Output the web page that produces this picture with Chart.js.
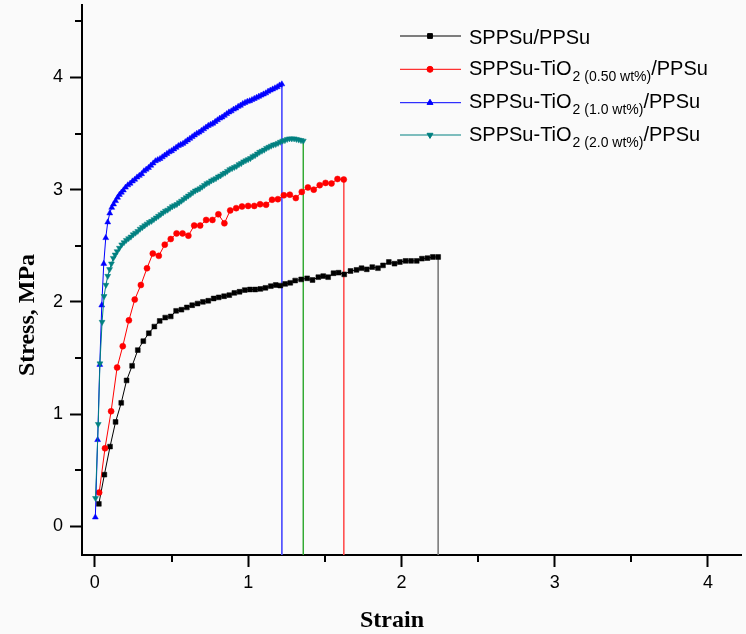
<!DOCTYPE html>
<html><head><meta charset="utf-8">
<script src="https://cdn.jsdelivr.net/npm/chart.js@4.4.1/dist/chart.umd.min.js"></script>
<style>html,body{margin:0;padding:0;background:#fafafa;overflow:hidden}canvas{display:block}</style>
</head><body><canvas id="c" width="746" height="634"></canvas>
<script>
// ---------- data ----------
const seriesNames = ['SPPSu/PPSu','SPPSu-TiO2 (0.50 wt%)/PPSu','SPPSu-TiO2 (1.0 wt%)/PPSu','SPPSu-TiO2 (2.0 wt%)/PPSu'];
const legendParts = [['SPPSu/PPSu','',''],['SPPSu-TiO','2 (0.50 wt%)','/PPSu'],['SPPSu-TiO','2 (1.0 wt%)','/PPSu'],['SPPSu-TiO','2 (2.0 wt%)','/PPSu']];
const xTicks = [0,1,2,3,4];
const xTickLabels = ['0','1','2','3','4'];
const xMinor = [0.5,1.5,2.5,3.5];
const yTicks = [0,1,2,3,4];
const yTickLabels = ['0','1','2','3','4'];
const yMinor = [0.5,1.5,2.5,3.5,4.5];
const xTitle = 'Strain';
const yTitle = 'Stress, MPa';

// SPPSu/PPSu  [strain, stress]
const neat = [[0.026,0.20],[0.062,0.46],[0.099,0.71],[0.135,0.93],[0.172,1.10],[0.207,1.30],[0.243,1.43],[0.28,1.57],[0.316,1.65],[0.352,1.72],[0.388,1.78],[0.423,1.83],[0.459,1.86],[0.495,1.87],[0.53,1.92],[0.565,1.93],[0.6,1.95],[0.635,1.97],[0.67,1.985],[0.705,2.0],[0.74,2.01],[0.775,2.03],[0.808,2.04],[0.843,2.05],[0.877,2.06],[0.91,2.08],[0.944,2.09],[0.978,2.105],[1.012,2.11],[1.046,2.11],[1.08,2.115],[1.113,2.125],[1.148,2.14],[1.18,2.15],[1.21,2.145],[1.242,2.16],[1.275,2.17],[1.307,2.19],[1.346,2.20],[1.385,2.21],[1.42,2.195],[1.458,2.22],[1.49,2.23],[1.522,2.22],[1.557,2.255],[1.59,2.26],[1.627,2.245],[1.668,2.275],[1.707,2.285],[1.74,2.30],[1.774,2.29],[1.81,2.31],[1.847,2.30],[1.88,2.325],[1.918,2.355],[1.955,2.34],[1.99,2.355],[2.027,2.365],[2.063,2.365],[2.1,2.365],[2.134,2.385],[2.17,2.39],[2.205,2.40],[2.24,2.40]];
// SPPSu-TiO2 (0.50 wt%)/PPSu
const ti050 = [[0.028,0.30],[0.066,0.695],[0.106,1.025],[0.145,1.415],[0.182,1.605],[0.222,1.835],[0.26,2.02],[0.30,2.15],[0.34,2.30],[0.378,2.43],[0.417,2.41],[0.456,2.51],[0.495,2.56],[0.533,2.61],[0.572,2.61],[0.61,2.59],[0.648,2.68],[0.687,2.68],[0.726,2.73],[0.767,2.73],[0.806,2.78],[0.845,2.70],[0.883,2.815],[0.922,2.835],[0.96,2.85],[1.0,2.855],[1.04,2.855],[1.078,2.87],[1.117,2.865],[1.156,2.91],[1.194,2.915],[1.233,2.95],[1.272,2.955],[1.311,2.925],[1.35,2.98],[1.39,3.02],[1.428,3.0],[1.467,3.04],[1.505,3.06],[1.544,3.055],[1.583,3.095],[1.624,3.09]];
// SPPSu-TiO2 (1.0 wt%)/PPSu
const ti100 = [[0.003,0.08],[0.018,0.77],[0.032,1.44],[0.045,1.97],[0.058,2.34],[0.071,2.57],[0.084,2.71],[0.097,2.79],[0.11,2.84],[0.122,2.87],[0.135,2.90],[0.148,2.93],[0.16,2.955],[0.173,2.975],[0.186,2.995],[0.2,3.02],[0.215,3.04],[0.23,3.055],[0.245,3.075],[0.26,3.09],[0.275,3.11],[0.29,3.125],[0.305,3.14],[0.32,3.165],[0.335,3.18],[0.35,3.195],[0.365,3.215],[0.38,3.235],[0.395,3.255],[0.41,3.265],[0.425,3.275],[0.44,3.29],[0.455,3.305],[0.47,3.32],[0.485,3.335],[0.5,3.345],[0.515,3.36],[0.53,3.375],[0.545,3.39],[0.56,3.40],[0.575,3.41],[0.59,3.425],[0.605,3.44],[0.62,3.455],[0.635,3.47],[0.65,3.485],[0.665,3.50],[0.68,3.51],[0.695,3.525],[0.71,3.54],[0.725,3.555],[0.74,3.57],[0.755,3.58],[0.77,3.59],[0.785,3.605],[0.8,3.62],[0.815,3.635],[0.83,3.645],[0.845,3.66],[0.86,3.675],[0.875,3.69],[0.89,3.70],[0.905,3.715],[0.92,3.725],[0.935,3.74],[0.95,3.75],[0.965,3.765],[0.98,3.775],[0.995,3.785],[1.01,3.79],[1.025,3.80],[1.04,3.81],[1.055,3.82],[1.07,3.83],[1.085,3.84],[1.1,3.85],[1.115,3.86],[1.13,3.875],[1.145,3.885],[1.16,3.895],[1.175,3.905],[1.19,3.915],[1.205,3.93],[1.22,3.94]];
// SPPSu-TiO2 (2.0 wt%)/PPSu
const ti200 = [[0.004,0.25],[0.022,0.91],[0.033,1.45],[0.047,1.82],[0.06,2.05],[0.072,2.15],[0.084,2.23],[0.096,2.29],[0.108,2.34],[0.12,2.39],[0.132,2.42],[0.145,2.45],[0.16,2.48],[0.175,2.51],[0.19,2.53],[0.205,2.55],[0.22,2.565],[0.235,2.58],[0.25,2.60],[0.265,2.615],[0.28,2.63],[0.295,2.65],[0.31,2.665],[0.325,2.68],[0.34,2.695],[0.355,2.71],[0.37,2.72],[0.385,2.735],[0.4,2.75],[0.415,2.765],[0.43,2.78],[0.445,2.795],[0.46,2.81],[0.475,2.82],[0.49,2.835],[0.505,2.85],[0.52,2.86],[0.535,2.87],[0.55,2.885],[0.565,2.90],[0.58,2.915],[0.595,2.93],[0.61,2.945],[0.625,2.96],[0.64,2.975],[0.655,2.99],[0.67,3.0],[0.685,3.01],[0.7,3.025],[0.715,3.04],[0.73,3.055],[0.745,3.065],[0.76,3.08],[0.775,3.09],[0.79,3.10],[0.805,3.115],[0.82,3.125],[0.835,3.14],[0.85,3.15],[0.865,3.165],[0.88,3.18],[0.895,3.19],[0.91,3.20],[0.925,3.21],[0.94,3.225],[0.955,3.235],[0.97,3.25],[0.985,3.26],[1.0,3.27],[1.015,3.28],[1.03,3.295],[1.045,3.305],[1.06,3.32],[1.075,3.335],[1.09,3.345],[1.105,3.355],[1.12,3.37],[1.135,3.38],[1.15,3.39],[1.165,3.40],[1.18,3.405],[1.195,3.415],[1.21,3.425],[1.225,3.435],[1.24,3.44],[1.255,3.45],[1.27,3.455],[1.285,3.455],[1.3,3.455],[1.315,3.45],[1.33,3.445],[1.345,3.44],[1.36,3.435]];

const allSeries = [neat, ti050, ti100, ti200];
const seriesColors = ['#000000','#ff0000','#0000ff','#008080'];
const dropColors = ['#7f7f7f','#ff5050','#5050ff','#33aa33'];
const pointStyles = ['rect','circle','triangle','triangle'];
const pointRadii = [3.4,3,3.4,3.4];
const pointRots = [0,0,0,180];

const X_MIN = -0.084, X_MAX = 4.219, Y_MIN = -0.256, Y_MAX = 4.65;

// ---------- chart ----------
const FONT_SANS = '"Liberation Sans", Arial, sans-serif';
const FONT_SERIF = '"Liberation Serif", "Times New Roman", serif';

const datasets = [];
allSeries.forEach((s, i) => {
  datasets.push({
    label: seriesNames[i],
    data: s.map(p => ({x: p[0], y: p[1]})),
    borderColor: seriesColors[i], backgroundColor: seriesColors[i],
    pointBackgroundColor: seriesColors[i], pointBorderColor: seriesColors[i],
    borderWidth: 1, pointRadius: pointRadii[i], pointStyle: pointStyles[i],
    pointRotation: pointRots[i], pointBorderWidth: 0.5, tension: 0, order: 4 - i
  });
});
allSeries.forEach((s, i) => {
  const last = s[s.length - 1];
  datasets.push({
    label: seriesNames[i] + ' break',
    data: [{x: last[0], y: last[1]}, {x: last[0], y: Y_MIN}],
    borderColor: dropColors[i], borderWidth: 1, pointRadius: 0, tension: 0, order: 10
  });
});

const bgPlugin = {
  id: 'bg',
  beforeDraw(chart) {
    const c = chart.ctx; c.save(); c.fillStyle = '#fafafa';
    c.fillRect(0, 0, chart.width, chart.height); c.restore();
  }
};

const extrasPlugin = {
  id: 'extras',
  afterDraw(chart) {
    const c = chart.ctx, ca = chart.chartArea;
    const xs = chart.scales.x, ys = chart.scales.y;
    c.save();
    // minor ticks
    c.strokeStyle = '#000'; c.lineWidth = 2; c.beginPath();
    xMinor.forEach(v => { const p = Math.round(xs.getPixelForValue(v)); c.moveTo(p, ca.bottom); c.lineTo(p, ca.bottom + 7); });
    yMinor.forEach(v => { const p = Math.round(ys.getPixelForValue(v)); c.moveTo(ca.left, p); c.lineTo(ca.left - 7, p); });
    c.stroke();
    // axis titles
    c.fillStyle = '#000'; c.font = 'bold 24px ' + FONT_SERIF;
    c.textAlign = 'center'; c.textBaseline = 'middle';
    c.fillText(xTitle, 392, 621);
    c.save(); c.translate(28, 315); c.rotate(-Math.PI / 2); c.fillText(yTitle, 0, 0); c.restore();
    // legend
    const rows = [36, 69.3, 102.7, 135];
    const bases = [44, 75, 108.3, 140.7];
    c.textAlign = 'left'; c.textBaseline = 'alphabetic';
    legendParts.forEach((parts, i) => {
      const y = rows[i];
      c.strokeStyle = seriesColors[i]; c.lineWidth = 1;
      c.beginPath(); c.moveTo(400, y); c.lineTo(461, y); c.stroke();
      c.fillStyle = seriesColors[i];
      Chart.helpers.drawPoint(c, {pointStyle: pointStyles[i], radius: pointRadii[i], rotation: pointRots[i], borderWidth: 0.5}, 430, y);
      c.fillStyle = '#000';
      let x = 469; const b = bases[i];
      c.font = '20px ' + FONT_SANS;
      c.fillText(parts[0], x, b); x += c.measureText(parts[0]).width;
      if (parts[1]) {
        c.font = '14px ' + FONT_SANS;
        c.fillText(parts[1], x + 1, b + 6); x += c.measureText(parts[1]).width + 1;
        c.font = '20px ' + FONT_SANS;
        c.fillText(parts[2], x, b);
      }
    });
    c.restore();
  }
};

new Chart(document.getElementById('c'), {
  type: 'line',
  data: {datasets},
  options: {
    responsive: false, animation: false, devicePixelRatio: 1,
    layout: {padding: 0},
    plugins: {legend: {display: false}, tooltip: {enabled: false}, title: {display: false}},
    scales: {
      x: {
        type: 'linear', min: X_MIN, max: X_MAX,
        afterBuildTicks: s => { s.ticks = xTicks.map(v => ({value: v})); },
        afterFit: s => { s.height = 79; s.paddingLeft = 0; s.paddingRight = 0; },
        grid: {drawOnChartArea: false, tickLength: 12, tickWidth: 2, tickColor: '#000'},
        border: {color: '#000', width: 2},
        ticks: {color: '#000', font: {family: FONT_SANS, size: 18}, padding: 5, maxRotation: 0, autoSkip: false,
          callback: (v, i) => xTickLabels[i]}
      },
      y: {
        type: 'linear', min: Y_MIN, max: Y_MAX,
        afterBuildTicks: s => { s.ticks = yTicks.map(v => ({value: v})); },
        afterFit: s => { s.width = 82; s.paddingTop = 0; s.paddingBottom = 0; },
        grid: {drawOnChartArea: false, tickLength: 12, tickWidth: 2, tickColor: '#000'},
        border: {color: '#000', width: 2},
        ticks: {color: '#000', font: {family: FONT_SANS, size: 18}, padding: 7, autoSkip: false,
          callback: (v, i) => yTickLabels[i]}
      }
    }
  },
  plugins: [bgPlugin, extrasPlugin]
});
</script>
</body></html>
